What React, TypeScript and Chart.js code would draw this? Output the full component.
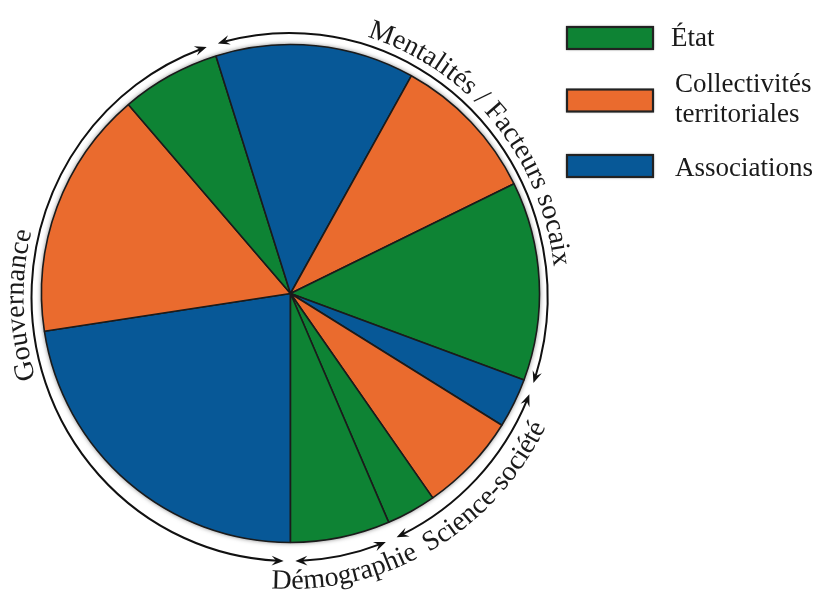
import React, { useEffect, useRef } from 'react';
import { Chart, registerables } from 'chart.js';

Chart.register(...registerables);

// ---- data ----
const groupLabels = ['Gouvernance', 'Mentalités / Facteurs socaix', 'Science-société', 'Démographie'];
const associations = [7, 4, 1, 0];
const collectivites = [5, 3, 2, 0];
const etat = [2, 4, 1, 2];
const seriesNames = ['État', 'Collectivités territoriales', 'Associations'];
const seriesColors = ['#0e8334', '#ea6b2e', '#075897'];
const labelShiftDeg = [7, 4, 0, 0];
const labelInside = [false, false, true, true];
const startDeg = 180;

// slices built from the arrays (clockwise order inside each group: Associations, Collectivités, État)
const sliceValues: number[] = [];
const sliceColors: string[] = [];
const sliceLabels: string[] = [];
groupLabels.forEach((g, i) => {
  const parts: [number[], number][] = [[associations, 2], [collectivites, 1], [etat, 0]];
  parts.forEach(([arr, s]) => {
    const v = arr[i];
    if (v > 0) {
      sliceValues.push(v);
      sliceColors.push(seriesColors[s]);
      sliceLabels.push(g + ' – ' + seriesNames[s]);
    }
  });
});
const groupTotals = groupLabels.map((_, i) => associations[i] + collectivites[i] + etat[i]);

const FONT = '"Liberation Serif", "Times New Roman", serif';

const annotPlugin = {
  id: 'annot',
  beforeDatasetsDraw(chart: any) {
    const el = chart.getDatasetMeta(0).data[0];
    const ctx = chart.ctx;
    ctx.save();
    ctx.shadowColor = 'rgba(0,0,0,0.6)';
    ctx.shadowBlur = 5;
    ctx.beginPath();
    ctx.arc(el.x, el.y, el.outerRadius, 0, Math.PI * 2);
    ctx.fillStyle = '#333';
    ctx.fill();
    ctx.restore();
  },
  afterDraw(chart: any) {
    const ctx: CanvasRenderingContext2D = chart.ctx;
    const el = chart.getDatasetMeta(0).data[0];
    const r = el.outerRadius;
    const cx = el.x - 1;
    const cy = el.y + 3.5;
    const rx = r + 9;
    const ry = r + 15;
    const rad = (d: number) => (d * Math.PI) / 180;
    const pt = (th: number, d: number) => [cx + (rx + d) * Math.sin(th), cy - (ry + d) * Math.cos(th)];
    const tang = (th: number, d: number) => {
      const tx = (rx + d) * Math.cos(th);
      const ty = (ry + d) * Math.sin(th);
      const n = Math.hypot(tx, ty);
      return [tx / n, ty / n];
    };
    const rate = (th: number, d: number) => Math.hypot((rx + d) * Math.cos(th), (ry + d) * Math.sin(th));

    const total = groupTotals.reduce((a, b) => a + b, 0);
    let cum = 0;
    const extents = groupTotals.map((t) => {
      const a = startDeg + (360 * cum) / total;
      cum += t;
      const b = startDeg + (360 * cum) / total;
      return [a, b];
    });

    const ink = '#111';
    const arrow = (tip: number[], dir: number[]) => {
      const L = 12, W = 4.8;
      const nx = -dir[1], ny = dir[0];
      ctx.beginPath();
      ctx.moveTo(tip[0], tip[1]);
      ctx.lineTo(tip[0] - L * dir[0] + W * nx, tip[1] - L * dir[1] + W * ny);
      ctx.lineTo(tip[0] - 0.62 * L * dir[0], tip[1] - 0.62 * L * dir[1]);
      ctx.lineTo(tip[0] - L * dir[0] - W * nx, tip[1] - L * dir[1] - W * ny);
      ctx.closePath();
      ctx.fill();
    };

    ctx.save();
    ctx.strokeStyle = ink;
    ctx.fillStyle = ink;
    ctx.lineWidth = 2;
    const gap = 1.3;
    extents.forEach(([a, b]) => {
      const a0 = rad(a + gap);
      const a1 = rad(b - gap);
      const back = 6 / 262;
      ctx.beginPath();
      ctx.ellipse(cx, cy, rx, ry, 0, a0 + back - Math.PI / 2, a1 - back - Math.PI / 2);
      ctx.stroke();
      const t0 = tang(a0, 0);
      arrow(pt(a0, 0), [-t0[0], -t0[1]]);
      const t1 = tang(a1, 0);
      arrow(pt(a1, 0), t1);
    });

    // curved labels
    ctx.font = '28px ' + FONT;
    ctx.textAlign = 'center';
    ctx.textBaseline = 'alphabetic';
    ctx.fillStyle = '#1a1a1a';
    groupLabels.forEach((text, i) => {
      const inside = labelInside[i];
      const d = inside ? 28 : 8;
      const dir = inside ? -1 : 1;
      const [a, b] = extents[i];
      const center = rad((a + b) / 2 + labelShiftDeg[i]);
      const chars = Array.from(text);
      const widths = chars.map((c) => ctx.measureText(c).width);
      const totalW = widths.reduce((s, w) => s + w, 0);
      let th = center;
      let remaining = totalW / 2;
      const step = 0.5;
      while (remaining > 0) {
        const s = Math.min(step, remaining);
        th -= (dir * s) / rate(th, d);
        remaining -= s;
      }
      chars.forEach((c, k) => {
        const w = widths[k];
        th += (dir * (w / 2)) / rate(th, d);
        const p = pt(th, d);
        const t = tang(th, d);
        const rot = dir > 0 ? Math.atan2(t[1], t[0]) : Math.atan2(-t[1], -t[0]);
        ctx.save();
        ctx.translate(p[0], p[1]);
        ctx.rotate(rot);
        ctx.fillText(c, 0, 0);
        ctx.restore();
        th += (dir * (w / 2)) / rate(th, d);
      });
    });

    // legend
    const boxX = 567, boxW = 86, boxH = 22;
    const boxTops = [27, 89.5, 155];
    const textLines: [string, number, number][][] = [
      [[seriesNames[0], 671, 46]],
      [['Collectivités', 675, 92], ['territoriales', 675, 122]],
      [[seriesNames[2], 675, 176]],
    ];
    ctx.textAlign = 'left';
    ctx.font = '27px ' + FONT;
    seriesColors.forEach((col, i) => {
      ctx.save();
      ctx.shadowColor = 'rgba(0,0,0,0.45)';
      ctx.shadowBlur = 3;
      ctx.fillStyle = col;
      ctx.fillRect(boxX, boxTops[i], boxW, boxH);
      ctx.restore();
      ctx.strokeStyle = '#222';
      ctx.lineWidth = 2.2;
      ctx.strokeRect(boxX, boxTops[i], boxW, boxH);
      ctx.fillStyle = '#1a1a1a';
      textLines[i].forEach(([s, x, y]) => ctx.fillText(s, x, y));
    });
    ctx.restore();
  },
};

export default function App() {
  const ref = useRef<HTMLCanvasElement | null>(null);
  useEffect(() => {
    if (!ref.current) return;
    const chart = new Chart(ref.current, {
      type: 'pie',
      data: {
        labels: sliceLabels,
        datasets: [
          {
            data: sliceValues,
            backgroundColor: sliceColors,
            borderColor: '#1b1b1b',
            borderWidth: 1.6,
            radius: 249,
            hoverOffset: 0,
            offset: 0,
          } as any,
        ],
      },
      options: {
        responsive: false,
        animation: false,
        rotation: startDeg,
        layout: { padding: { left: 0, right: 235, top: 0, bottom: 4 } },
        plugins: { legend: { display: false }, tooltip: { enabled: false } },
        events: [],
      },
      plugins: [annotPlugin],
    });
    return () => chart.destroy();
  }, []);
  return (
    <div style={{ position: 'absolute', left: 0, top: 0, width: 816, height: 591, background: '#fff' }}>
      <canvas ref={ref} width={816} height={591} style={{ display: 'block' }} />
    </div>
  );
}
